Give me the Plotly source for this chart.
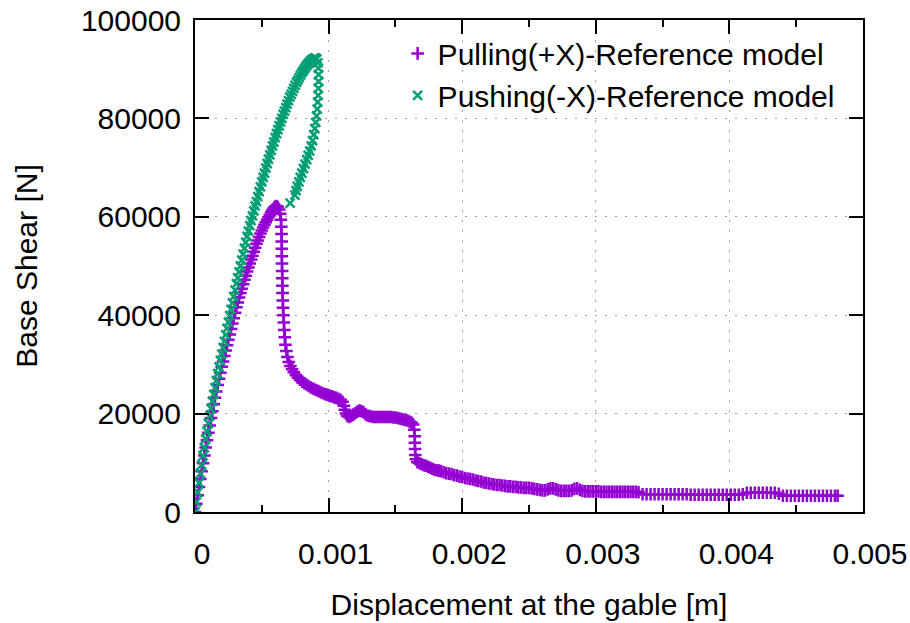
import plotly.graph_objects as go

# ---------------- data ----------------
# Pulling(+X): displacement [m] and base shear [N]
pull_rise_x = [
    0.0, 0.00001, 0.00002, 0.00003, 0.00004, 0.00005, 0.00006, 0.00007, 0.00008, 0.00009,
    0.00010, 0.00011, 0.00012, 0.00013, 0.00014, 0.00015, 0.00016, 0.00017, 0.00018, 0.00019,
    0.00020, 0.00021, 0.00022, 0.00023, 0.00024, 0.00025, 0.00026, 0.00027, 0.00028, 0.00029,
    0.00030, 0.00031, 0.00032, 0.00033, 0.00034, 0.00035, 0.00036, 0.00037, 0.00038, 0.00039,
    0.00040, 0.00041, 0.00042, 0.00043, 0.00044, 0.00045, 0.00046, 0.00047, 0.00048, 0.00049,
    0.00050, 0.00051, 0.00052, 0.00053, 0.00054, 0.00055, 0.00056, 0.00057, 0.00058, 0.00059,
    0.00060,
]
pull_rise_y = [
    0, 1700, 3400, 5100, 6700, 8300, 9900, 11500, 13100, 14600,
    16100, 17600, 19100, 20500, 21900, 23200, 24500, 25800, 27100, 28300,
    29500, 30600, 31700, 32800, 33900, 35000, 36100, 37200, 38300, 39400,
    40500, 41600, 42600, 43600, 44500, 45400, 46300, 47200, 48000, 48900,
    49700, 50500, 51300, 52100, 52900, 53700, 54500, 55200, 55900, 56600,
    57200, 57800, 58400, 58900, 59400, 59900, 60400, 60900, 61400, 61800,
    62100,
]
pull_drop_x = [
    0.000610, 0.000620, 0.000630, 0.000638, 0.000643, 0.000646, 0.000648, 0.000649, 0.000650, 0.000650,
    0.000651, 0.000652, 0.000653, 0.000654, 0.000655, 0.000657, 0.000659, 0.000662, 0.000665, 0.000668,
    0.000672, 0.000677, 0.000684, 0.000692, 0.000702, 0.000714, 0.000727, 0.000740, 0.000755, 0.000770,
    0.000786, 0.000802, 0.000818, 0.000834, 0.000850, 0.000866, 0.000882, 0.000898, 0.000914, 0.000930,
    0.000946, 0.000962, 0.000978, 0.000994, 0.001010, 0.001026, 0.001042, 0.001058, 0.001074, 0.001090,
    0.001104, 0.001114, 0.001122, 0.001130, 0.001140, 0.001155, 0.001170, 0.001185, 0.001200, 0.001215,
    0.001230, 0.001245, 0.001260, 0.001275, 0.001290, 0.001305, 0.001320, 0.001335, 0.001350, 0.001365,
    0.001380, 0.001395, 0.001410, 0.001425, 0.001440, 0.001455, 0.001470, 0.001485, 0.001500, 0.001515,
    0.001530, 0.001545, 0.001560, 0.001575, 0.001590, 0.001605, 0.001620, 0.001633, 0.001641, 0.001645,
    0.001646, 0.001647, 0.001649, 0.001654, 0.001665, 0.001680, 0.001696, 0.001712, 0.001728, 0.001744,
    0.001760, 0.001776, 0.001792, 0.001808, 0.001824, 0.001840, 0.001860, 0.001880, 0.001900, 0.001920,
]
pull_drop_y = [
    62200, 62000, 61500, 60600, 59400, 58000, 56500, 55000, 53500, 52000,
    50500, 49000, 47500, 46000, 44500, 43000, 41500, 40000, 38500, 37000,
    35500, 34000, 32700, 31500, 30500, 29700, 29000, 28400, 27800, 27300,
    26900, 26500, 26200, 25900, 25600, 25300, 25100, 24900, 24700, 24500,
    24300, 24100, 23900, 23800, 23600, 23500, 23300, 23200, 23000, 22800,
    22400, 21600, 20800, 20000, 19500, 19300, 19500, 19800, 20100, 20400,
    20600, 20500, 20300, 19900, 19600, 19500, 19400, 19300, 19300, 19300,
    19300, 19300, 19300, 19300, 19300, 19300, 19300, 19200, 19200, 19100,
    19000, 18900, 18800, 18700, 18600, 18400, 18200, 17800, 16700, 15400,
    14100, 12800, 11600, 10700, 10100, 9900, 9700, 9500, 9400, 9200,
    9000, 8800, 8600, 8500, 8400, 8300, 8100, 7900, 7800, 7700,
]
pull_tail_x = [
    0.00194, 0.00196, 0.00198, 0.00200, 0.00202, 0.00204, 0.00206, 0.00208, 0.00210, 0.00212,
    0.00214, 0.00216, 0.00218, 0.00220, 0.00222, 0.00224, 0.00226, 0.00228, 0.00230, 0.00232,
    0.00234, 0.00236, 0.00238, 0.00240, 0.00242, 0.00244, 0.00246, 0.00248, 0.00250, 0.00252,
    0.00254, 0.00256, 0.00258, 0.00260, 0.00262, 0.00264, 0.00266, 0.00268, 0.00270, 0.00272,
    0.00274, 0.00276, 0.00278, 0.00280, 0.00282, 0.00284, 0.00286, 0.00288, 0.00290, 0.00292,
    0.00294, 0.00296, 0.00298, 0.00300, 0.00302, 0.00304, 0.00306, 0.00308, 0.00310, 0.00312,
    0.00314, 0.00316, 0.00318, 0.00320, 0.00322, 0.00324, 0.00326, 0.00328, 0.00330, 0.00332,
    0.00335, 0.00338, 0.00341, 0.00344, 0.00347, 0.00350, 0.00353, 0.00356, 0.00359, 0.00362,
    0.00365, 0.00368, 0.00371, 0.00374, 0.00377, 0.00380, 0.00383, 0.00386, 0.00389, 0.00392,
    0.00395, 0.00398, 0.00401, 0.00404, 0.00407, 0.00410, 0.00413, 0.00416, 0.00419, 0.00422,
    0.00425, 0.00428, 0.00431, 0.00434, 0.00437, 0.00440, 0.00443, 0.00446, 0.00449, 0.00452,
    0.00455, 0.00458, 0.00461, 0.00464, 0.00467, 0.00470, 0.00473, 0.00476, 0.00479, 0.00481,
]
pull_tail_y = [
    7500, 7400, 7200, 7100, 6900, 6800, 6700, 6600, 6400, 6300,
    6200, 6000, 5900, 5800, 5700, 5600, 5500, 5500, 5400, 5300,
    5200, 5200, 5100, 5100, 5000, 5000, 4900, 4900, 4900, 4800,
    4700, 4600, 4500, 4400, 4400, 4600, 4800, 4800, 4600, 4400,
    4300, 4300, 4300, 4300, 4400, 4700, 4800, 4500, 4300, 4200,
    4200, 4200, 4200, 4200, 4200, 4100, 4100, 4100, 4100, 4100,
    4100, 4100, 4100, 4100, 4100, 4100, 4100, 4100, 4100, 4000,
    3600, 3600, 3600, 3600, 3600, 3600, 3600, 3600, 3600, 3600,
    3600, 3600, 3500, 3500, 3500, 3500, 3500, 3500, 3500, 3500,
    3500, 3500, 3500, 3500, 3500, 3600, 3900, 3900, 3900, 3900,
    3900, 3900, 3900, 3900, 3700, 3300, 3300, 3300, 3300, 3300,
    3300, 3300, 3300, 3300, 3300, 3300, 3300, 3300, 3300, 3300,
]

# Pushing(-X): displacement [m] and base shear [N]
push_rise_x = [
    0.0, 0.00001, 0.00002, 0.00003, 0.00004, 0.00005, 0.00006, 0.00007, 0.00008, 0.00009,
    0.00010, 0.00011, 0.00012, 0.00013, 0.00014, 0.00015, 0.00016, 0.00017, 0.00018, 0.00019,
    0.00020, 0.00021, 0.00022, 0.00023, 0.00024, 0.00025, 0.00026, 0.00027, 0.00028, 0.00029,
    0.00030, 0.00031, 0.00032, 0.00033, 0.00034, 0.00035, 0.00036, 0.00037, 0.00038, 0.00039,
    0.00040, 0.00041, 0.00042, 0.00043, 0.00044, 0.00045, 0.00046, 0.00047, 0.00048, 0.00049,
    0.00050, 0.00051, 0.00052, 0.00053, 0.00054, 0.00055, 0.00056, 0.00057, 0.00058, 0.00059,
    0.00060, 0.00061, 0.00062, 0.00063, 0.00064, 0.00065, 0.00066, 0.00067, 0.00068, 0.00069,
    0.00070, 0.00071, 0.00072, 0.00073, 0.00074, 0.00075, 0.00076, 0.00077, 0.00078, 0.00079,
    0.00080, 0.00081, 0.00082, 0.00083, 0.00084, 0.00085, 0.00086, 0.00087, 0.00088, 0.00089,
    0.00090,
]
push_rise_y = [
    0, 2000, 4000, 5900, 7800, 9600, 11400, 13100, 14800, 16400,
    18000, 19500, 21000, 22500, 23900, 25300, 26700, 28100, 29500, 30800,
    32100, 33400, 34700, 36000, 37300, 38600, 39900, 41200, 42500, 43800,
    45100, 46400, 47600, 48800, 50000, 51200, 52400, 53600, 54800, 56000,
    57100, 58200, 59200, 60200, 61200, 62200, 63100, 64100, 65100, 66100,
    67100, 68000, 68900, 69900, 70800, 71700, 72600, 73500, 74400, 75200,
    76100, 76900, 77700, 78500, 79300, 80000, 80800, 81500, 82200, 82900,
    83600, 84300, 84900, 85500, 86100, 86700, 87300, 87800, 88300, 88800,
    89300, 89700, 90100, 90500, 90900, 91200, 91500, 91800, 92000, 92200,
    92300,
]
push_fall_x = [
    0.000912, 0.000919, 0.000923, 0.000925, 0.000925, 0.000924, 0.000922, 0.000919, 0.000915, 0.000910,
    0.000904, 0.000897, 0.000889, 0.000880, 0.000870, 0.000859, 0.000848, 0.000836, 0.000824, 0.000812,
    0.000800, 0.000788, 0.000777, 0.000766, 0.000756, 0.000748, 0.000712,
]
push_fall_y = [
    92100, 91300, 90200, 88900, 87500, 86100, 84700, 83300, 81900, 80500,
    79200, 77900, 76700, 75500, 74400, 73400, 72500, 71600, 70700, 69800,
    68900, 68000, 67100, 66200, 65300, 64400, 62800,
]

x_tick_vals = [0, 0.001, 0.002, 0.003, 0.004, 0.005]
x_tick_text = ["0", "0.001", "0.002", "0.003", "0.004", "0.005"]
y_tick_vals = [0, 20000, 40000, 60000, 80000, 100000]
y_tick_text = ["0", "20000", "40000", "60000", "80000", "100000"]

series_names = ["Pulling(+X)-Reference model", "Pushing(-X)-Reference model"]
x_title = "Displacement at the gable [m]"
y_title = "Base Shear [N]"

# ---------------- figure ----------------
pull_x = pull_rise_x + pull_drop_x + pull_tail_x
pull_y = pull_rise_y + pull_drop_y + pull_tail_y
push_x = push_rise_x + push_fall_x
push_y = push_rise_y + push_fall_y

PURPLE = "#9400D3"
GREEN = "#009E73"
FONT = "Liberation Sans, Arial, sans-serif"
FS = 30

fig = go.Figure()
fig.add_trace(go.Scatter(
    x=pull_x, y=pull_y, mode="markers", name=series_names[0],
    marker=dict(symbol="cross-thin", size=9, color=PURPLE,
                line=dict(color=PURPLE, width=2.5)),
))
fig.add_trace(go.Scatter(
    x=push_x, y=push_y, mode="markers", name=series_names[1],
    marker=dict(symbol="x-thin", size=9, color=GREEN,
                line=dict(color=GREEN, width=2.5)),
))

fig.update_layout(
    width=910, height=623,
    margin=dict(l=195, r=47, t=20, b=111, autoexpand=False),
    paper_bgcolor="white", plot_bgcolor="white",
    font=dict(family=FONT, size=FS, color="#000000"),
    legend=dict(x=0.965, xanchor="right", y=0.985, yanchor="top",
                bgcolor="rgba(0,0,0,0)", font=dict(family=FONT, size=FS),
                tracegroupgap=0),
    showlegend=True,
)
fig.update_xaxes(
    range=[0, 0.005], tickmode="array", tickvals=x_tick_vals, ticktext=x_tick_text,
    ticks="inside", ticklen=14, tickwidth=2, tickcolor="black",
    showline=True, linewidth=2, linecolor="black", mirror="ticks",
    showgrid=True, gridcolor="#a0a0a0", gridwidth=1, griddash="2px,8px",
    zeroline=False, ticklabelshift=7, ticklabelstandoff=14, automargin=False,
    tickfont=dict(family=FONT, size=FS),
    minor=dict(ticks="inside", ticklen=7, tickwidth=2, tickcolor="black",
               tick0=0, dtick=0.0005, showgrid=False),
    title=dict(text=x_title, standoff=25, font=dict(family=FONT, size=FS)),
)
fig.update_yaxes(
    range=[0, 100000], tickmode="array", tickvals=y_tick_vals, ticktext=y_tick_text,
    ticks="inside", ticklen=14, tickwidth=2, tickcolor="black",
    showline=True, linewidth=2, linecolor="black", mirror="ticks",
    showgrid=True, gridcolor="#a0a0a0", gridwidth=1, griddash="2px,8px",
    zeroline=False, ticklabelstandoff=6, automargin=False,
    tickfont=dict(family=FONT, size=FS),
    title=dict(text=y_title, standoff=34, font=dict(family=FONT, size=FS)),
)

fig.write_html(
    "out.html",
    config={"displayModeBar": False},
    post_script="document.body.style.margin='0';document.body.style.overflow='hidden';",
)
